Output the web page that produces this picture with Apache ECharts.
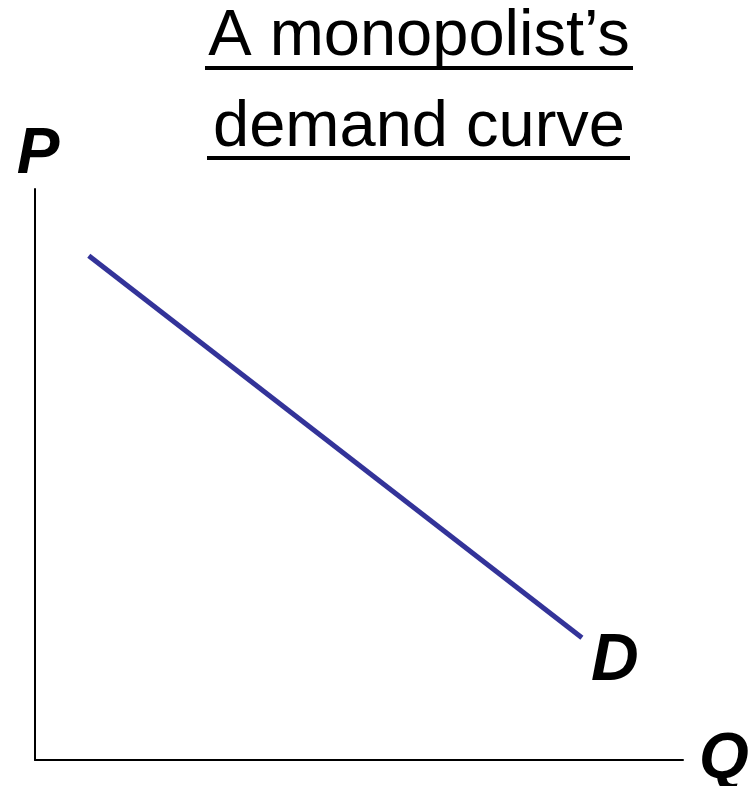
<!DOCTYPE html>
<html>
<head>
<meta charset="utf-8">
<script src="https://cdn.jsdelivr.net/npm/echarts@6/dist/echarts.min.js"></script>
<style>
html,body{margin:0;padding:0;background:#fff;}
#chart{width:755px;height:786px;}
</style>
</head>
<body>
<div id="chart"></div>
<script>
// Data
const titleLines = ['A monopolist\u2019s', 'demand curve'];
const axisNames = ['Q', 'P'];
const curveLabel = 'D';
const demandQ = [0.83, 8.44];
const demandP = [8.83, 2.14];

const chart = echarts.init(document.getElementById('chart'), null, {renderer: 'canvas'});
const font = '"Liberation Sans", Arial, Helvetica, sans-serif';

const option = {
  backgroundColor: '#ffffff',
  animation: false,
  title: {
    text: titleLines.join('\n'),
    left: 419,
    top: -8,
    padding: 0,
    textAlign: 'center',
    textStyle: {
      fontFamily: font,
      fontSize: 65,
      fontWeight: 'normal',
      color: '#000',
      lineHeight: 91
    }
  },
  graphic: [
    {type: 'line', shape: {x1: 205, y1: 68, x2: 633, y2: 68}, style: {stroke: '#000', lineWidth: 4}},
    {type: 'line', shape: {x1: 207, y1: 158, x2: 630, y2: 158}, style: {stroke: '#000', lineWidth: 4}}
  ],
  grid: {left: 35, top: 189, right: 72, bottom: 26, containLabel: false, outerBoundsMode: 'none'},
  xAxis: {
    type: 'value', min: 0, max: 10,
    name: axisNames[0], nameLocation: 'end', nameGap: 16,
    nameTextStyle: {fontFamily: font, fontSize: 64, fontWeight: 'bold', fontStyle: 'italic', color: '#000', verticalAlign: 'middle'},
    axisLine: {show: true, lineStyle: {color: '#000', width: 2}},
    axisTick: {show: false}, axisLabel: {show: false}, splitLine: {show: false}
  },
  yAxis: {
    type: 'value', min: 0, max: 10,
    name: axisNames[1], nameLocation: 'end', nameGap: 2,
    nameTextStyle: {fontFamily: font, fontSize: 64, fontWeight: 'bold', fontStyle: 'italic', color: '#000', align: 'center', padding: [0, 0, 0, 6]},
    axisLine: {show: true, lineStyle: {color: '#000', width: 2}},
    axisTick: {show: false}, axisLabel: {show: false}, splitLine: {show: false}
  },
  series: [{
    type: 'line',
    data: demandQ.map((q, i) => [q, demandP[i]]),
    symbol: 'none',
    lineStyle: {color: '#333399', width: 5},
    endLabel: {
      show: true, formatter: curveLabel, offset: [1, 24],
      fontFamily: font, fontSize: 66, fontWeight: 'bold', fontStyle: 'italic', color: '#000'
    }
  }]
};
chart.setOption(option);
</script>
</body>
</html>
